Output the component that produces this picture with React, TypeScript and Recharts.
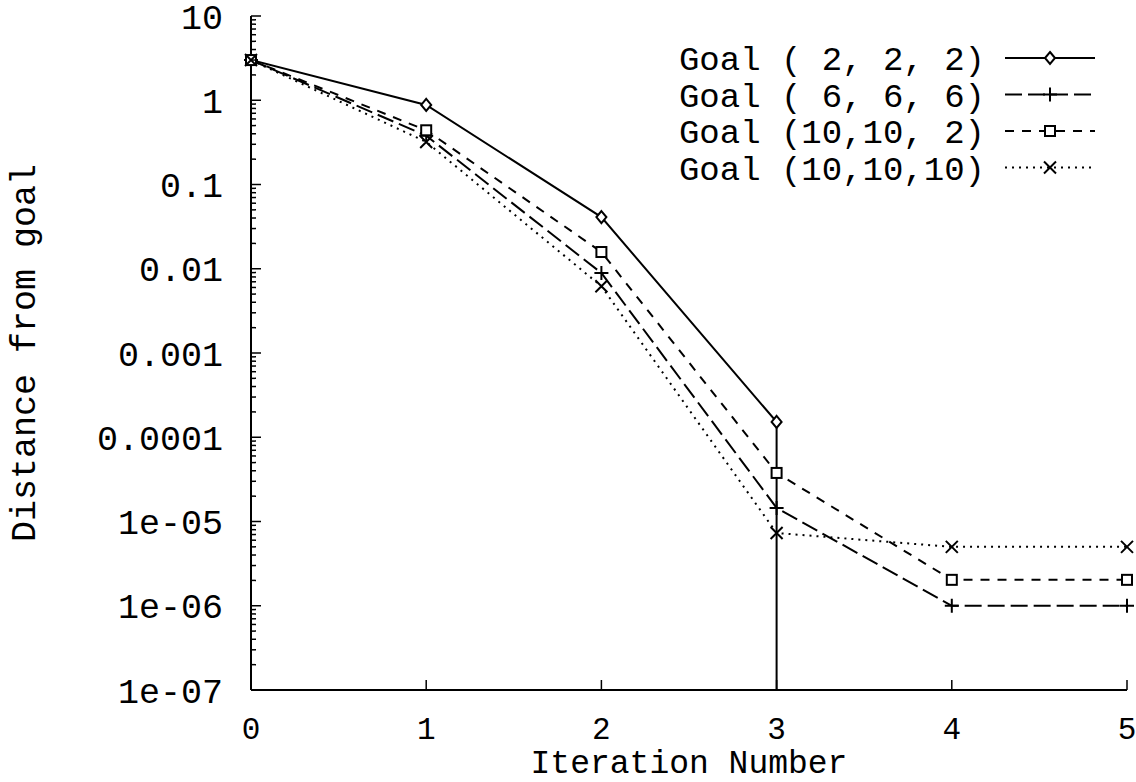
import React from "react";
import { LineChart, Line, XAxis, YAxis, Legend } from "recharts";

// ---- Data ----
const iterations = [0, 1, 2, 3, 4, 5];
const seriesNames = [
  "Goal ( 2, 2, 2)",
  "Goal ( 6, 6, 6)",
  "Goal (10,10, 2)",
  "Goal (10,10,10)",
];
// Goal (2,2,2) reaches exactly zero after iteration 3 (drawn as a drop below the axis)
const goal222 = [3.0, 0.88, 0.041, 1.52e-4];
const goal222Drop = 1e-12; // "zero" on a log axis, plotted at the last iteration
const goal666 = [3.0, 0.38, 0.0089, 1.45e-5, 1.0e-6, 1.0e-6];
const goal10102 = [3.0, 0.44, 0.0158, 3.77e-5, 2.03e-6, 2.03e-6];
const goal101010 = [3.0, 0.32, 0.0062, 7.3e-6, 5.0e-6, 5.0e-6];

const yMajorValues = [1e-7, 1e-6, 1e-5, 1e-4, 1e-3, 1e-2, 1e-1, 1, 10];
const yMajorLabels = ["1e-07", "1e-06", "1e-05", "0.0001", "0.001", "0.01", "0.1", "1", "10"];
const minorMultipliers = [2, 3, 4, 5, 6, 7, 8, 9];
const xTicks = [0, 1, 2, 3, 4, 5];
const xTitle = "Iteration Number";
const yTitle = "Distance from goal";

const yTicks: number[] = [];
yMajorValues.forEach((v, i) => {
  yTicks.push(v);
  if (i < yMajorValues.length - 1) minorMultipliers.forEach((m) => yTicks.push(m * v));
});

const makeSeries = (vals: number[]) => vals.map((y, i) => ({ x: iterations[i], y }));
const data222 = [...makeSeries(goal222), { x: iterations[goal222.length - 1], y: goal222Drop }];
const data666 = makeSeries(goal666);
const data10102 = makeSeries(goal10102);
const data101010 = makeSeries(goal101010);

const FONT = "'Liberation Mono', 'Courier New', monospace";
const dashes = ["", "17 6", "9 8", "2 5"];
const markers = ["diamond", "plus", "square", "cross"];

const majorLabel = (v: number) => {
  const idx = yMajorValues.findIndex((m) => Math.abs(Math.log10(m) - Math.log10(v)) < 1e-9);
  return idx >= 0 ? yMajorLabels[idx] : null;
};

const Marker = ({ type, cx, cy }: { type: string; cx: number; cy: number }) => {
  const s = { stroke: "#000", strokeWidth: 2, fill: "#fff" };
  if (type === "diamond")
    return <path d={`M${cx},${cy - 6} L${cx + 5},${cy} L${cx},${cy + 6} L${cx - 5},${cy} Z`} {...s} />;
  if (type === "square") return <rect x={cx - 5} y={cy - 5} width={10} height={10} {...s} />;
  if (type === "plus")
    return <path d={`M${cx - 7},${cy} H${cx + 7} M${cx},${cy - 7} V${cy + 7}`} stroke="#000" strokeWidth={2} fill="none" />;
  return <path d={`M${cx - 6},${cy - 6} L${cx + 6},${cy + 6} M${cx - 6},${cy + 6} L${cx + 6},${cy - 6}`} stroke="#000" strokeWidth={2} fill="none" />;
};

const makeDot = (type: string) => (props: any) => {
  const { cx, cy, payload, index } = props;
  if (payload.y < 1e-7 || cx == null || cy == null) return <g key={`d${index}`} />;
  return (
    <g key={`d${index}`}>
      <Marker type={type} cx={cx} cy={cy} />
    </g>
  );
};

const LeftTick = (props: any) => {
  const { x, y, payload } = props;
  const label = majorLabel(payload.value);
  return (
    <g>
      <line x1={x} x2={x + (label ? 10 : 5)} y1={y} y2={y} stroke="#000" strokeWidth={1.5} />
      {label && (
        <text x={x - 28} y={y} dy="0.36em" textAnchor="end" fontFamily={FONT} fontSize={35} fill="#000">
          {label}
        </text>
      )}
    </g>
  );
};

const RightTick = (props: any) => {
  const { x, y, payload } = props;
  const label = majorLabel(payload.value);
  return <line x1={x - (label ? 10 : 5)} x2={x} y1={y} y2={y} stroke="#000" strokeWidth={1.5} />;
};

const BottomTick = (props: any) => {
  const { x, y, payload } = props;
  return (
    <g>
      <line x1={x} x2={x} y1={y - 10} y2={y} stroke="#000" strokeWidth={1.5} />
      <text x={x} y={y + 38} dy="0.36em" textAnchor="middle" fontFamily={FONT} fontSize={31} fill="#000">
        {payload.value}
      </text>
    </g>
  );
};

const TopTick = (props: any) => {
  const { x, y } = props;
  return <line x1={x} x2={x} y1={y} y2={y + 10} stroke="#000" strokeWidth={1.5} />;
};

const XTitle = (props: any) => {
  const vb = props.viewBox || {};
  return (
    <text x={vb.x + vb.width / 2} y={vb.y + 71} dy="0.36em" textAnchor="middle" fontFamily={FONT} fontSize={33} fill="#000">
      {xTitle}
    </text>
  );
};

const YTitle = (props: any) => {
  const vb = props.viewBox || {};
  const cx = vb.x + 22;
  const cy = vb.y + vb.height / 2;
  return (
    <text
      x={cx}
      y={cy}
      dy="0.36em"
      textAnchor="middle"
      transform={`rotate(-90 ${cx} ${cy})`}
      fontFamily={FONT}
      fontSize={35}
      fill="#000"
    >
      {yTitle}
    </text>
  );
};

const LegendContent = () => (
  <svg width={450} height={170} style={{ overflow: "visible" }}>
    {seriesNames.map((name, i) => {
      const cy = 20 + 36.5 * i;
      return (
        <g key={name}>
          <text
            x={315}
            y={cy}
            dy="0.36em"
            textAnchor="end"
            fontFamily={FONT}
            fontSize={34}
            fill="#000"
            style={{ whiteSpace: "pre" }}
          >
            {name}
          </text>
          <line x1={335} x2={425} y1={cy} y2={cy} stroke="#000" strokeWidth={2} strokeDasharray={dashes[i] || undefined} />
          <Marker type={markers[i]} cx={380} cy={cy} />
        </g>
      );
    })}
  </svg>
);

export default function App() {
  const seriesData = [data222, data666, data10102, data101010];
  return (
    <div style={{ position: "absolute", left: 0, top: 0, width: 1136, height: 782, background: "#fff" }}>
      <LineChart width={1136} height={782} margin={{ top: 16, right: 9, left: 0, bottom: 0 }}>
        <XAxis
          xAxisId="bottom"
          dataKey="x"
          type="number"
          domain={[0, 5]}
          ticks={xTicks}
          interval={0}
          height={92}
          tickSize={0}
          tickMargin={0}
          tick={<BottomTick />}
          axisLine={{ stroke: "#000", strokeWidth: 2 }}
          tickLine={false}
          label={<XTitle />}
        />
        <XAxis
          xAxisId="top"
          orientation="top"
          dataKey="x"
          type="number"
          domain={[0, 5]}
          ticks={xTicks}
          interval={0}
          height={0}
          tickSize={0}
          tickMargin={0}
          tick={<TopTick />}
          axisLine={{ stroke: "#000", strokeWidth: 2 }}
          tickLine={false}
        />
        <YAxis
          yAxisId="left"
          scale="log"
          type="number"
          domain={[1e-7, 10]}
          allowDataOverflow
          ticks={yTicks}
          interval={0}
          width={251}
          tickSize={0}
          tickMargin={0}
          tick={<LeftTick />}
          axisLine={{ stroke: "#000", strokeWidth: 2 }}
          tickLine={false}
          label={<YTitle />}
        />
        <YAxis
          yAxisId="right"
          orientation="right"
          scale="log"
          type="number"
          domain={[1e-7, 10]}
          allowDataOverflow
          ticks={yTicks}
          interval={0}
          width={0}
          tickSize={0}
          tickMargin={0}
          tick={<RightTick />}
          axisLine={{ stroke: "#000", strokeWidth: 2 }}
          tickLine={false}
        />
        <Legend
          layout="vertical"
          align="center"
          verticalAlign="middle"
          content={<LegendContent />}
          wrapperStyle={{ left: 670, top: 38, width: 450, height: 170 }}
        />
        {seriesData.map((d, i) => (
          <Line
            key={seriesNames[i]}
            name={seriesNames[i]}
            data={d}
            dataKey="y"
            xAxisId="bottom"
            yAxisId="left"
            type="linear"
            stroke="#000"
            strokeWidth={2}
            strokeDasharray={dashes[i] || undefined}
            dot={makeDot(markers[i])}
            activeDot={false}
            isAnimationActive={false}
          />
        ))}
      </LineChart>
    </div>
  );
}
